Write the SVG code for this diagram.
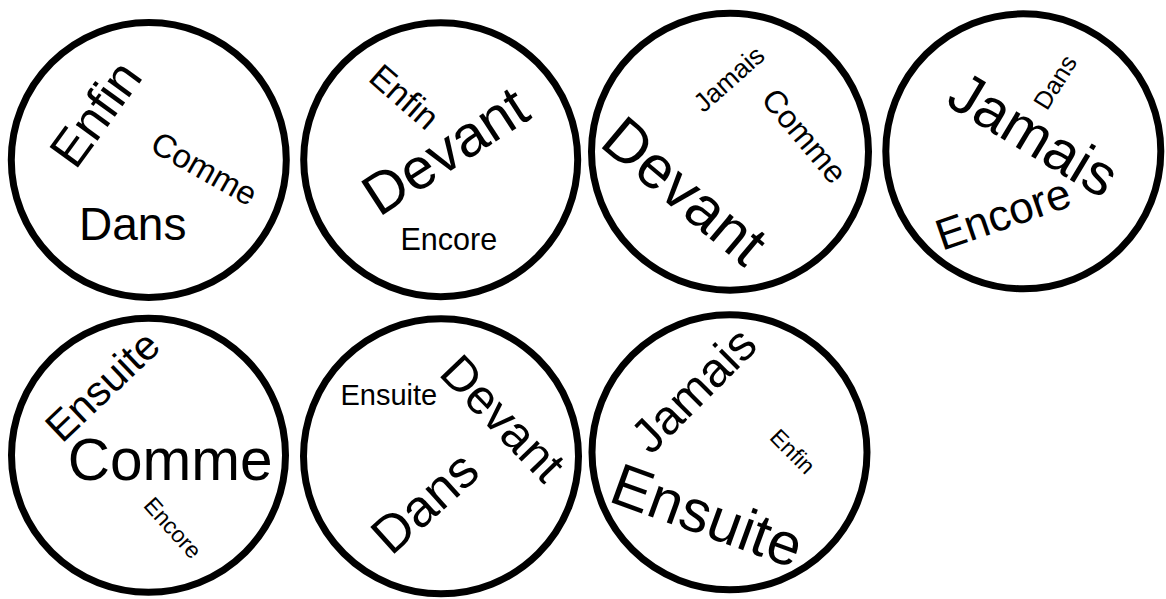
<svg xmlns="http://www.w3.org/2000/svg" width="1166" height="599" viewBox="0 0 1166 599">
<style>
.c{fill:none;stroke:#000;stroke-width:7}
text{font-family:"Liberation Sans",Arial,sans-serif;fill:#000}
</style>
<rect width="1166" height="599" fill="#fff"/>
<g id="node1">
<circle class="c" cx="148.8" cy="160" r="137.5"/>
<text transform="translate(75.5,171) rotate(-54)" font-size="51">Enfin</text>
<text transform="translate(148.5,150) rotate(29.5)" font-size="33">Comme</text>
<text x="79" y="240" font-size="46">Dans</text>
</g>
<g id="node2">
<circle class="c" cx="440.7" cy="159.7" r="137"/>
<text transform="translate(367,80) rotate(41)" font-size="34.5">Enfin</text>
<text transform="translate(379,217.5) rotate(-33)" font-size="58">Devant</text>
<text x="400.5" y="250" font-size="30.5">Encore</text>
</g>
<g id="node3">
<circle class="c" cx="730" cy="151.7" r="138.5"/>
<text transform="translate(703.5,113.5) rotate(-41.5)" font-size="26.5">Jamais</text>
<text transform="translate(760,100) rotate(50)" font-size="32">Comme</text>
<text transform="translate(598,145) rotate(40)" font-size="60.5">Devant</text>
</g>
<g id="node4">
<circle class="c" cx="1023.3" cy="151.3" r="137.5"/>
<text transform="translate(1047,111.5) rotate(-58)" font-size="25">Dans</text>
<text transform="translate(944,104) rotate(31)" font-size="58.5">Jamais</text>
<text transform="translate(942,251) rotate(-19)" font-size="44">Encore</text>
</g>
<g id="node5">
<circle class="c" cx="148.5" cy="455.3" r="137"/>
<text transform="translate(62,444) rotate(-43.5)" font-size="41.5">Ensuite</text>
<text x="67.8" y="480.3" font-size="58.5">Comme</text>
<text transform="translate(142.5,506) rotate(48)" font-size="23">Encore</text>
</g>
<g id="node6">
<circle class="c" cx="441" cy="456.3" r="137.5"/>
<text x="340.5" y="405" font-size="29">Ensuite</text>
<text transform="translate(437.5,374.5) rotate(46)" font-size="48.5">Devant</text>
<text transform="translate(391.3,556.8) rotate(-42)" font-size="52.5">Dans</text>
</g>
<g id="node7">
<circle class="c" cx="729.5" cy="452.3" r="137.5"/>
<text transform="translate(651,456) rotate(-45)" font-size="48.5">Jamais</text>
<text transform="translate(768.5,438.5) rotate(45)" font-size="23">Enfin</text>
<text transform="translate(607,500.7) rotate(20)" font-size="59.5">Ensuite</text>
</g>
<g id="connectors"></g>
</svg>
